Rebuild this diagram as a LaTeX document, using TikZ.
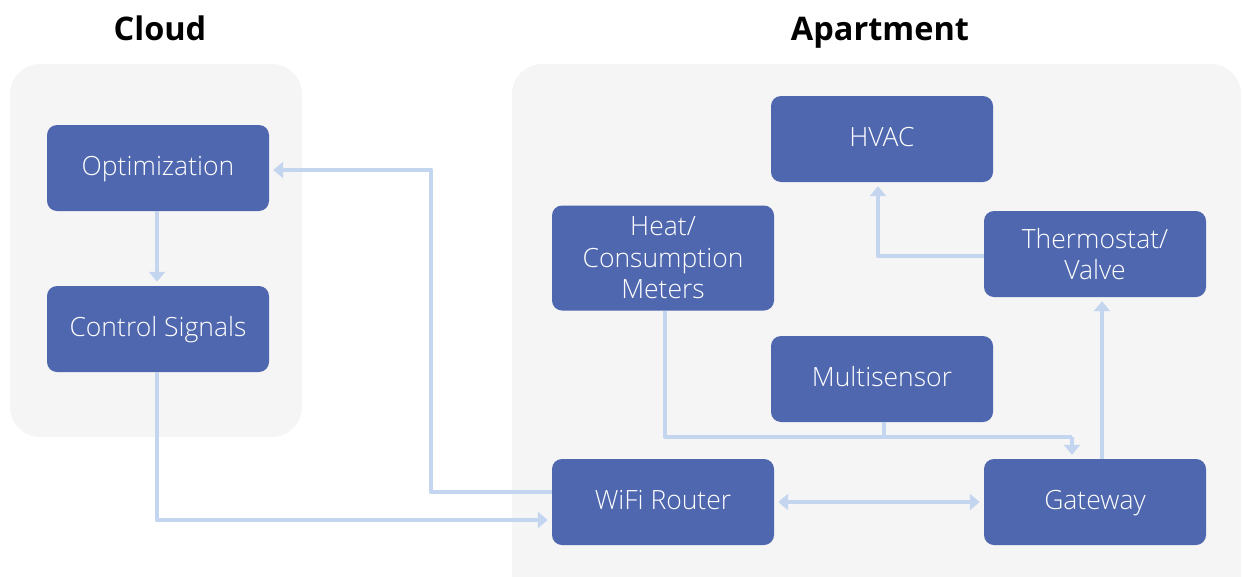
\documentclass[tikz,border=0pt]{standalone}
\usepackage{fontspec}
\setmainfont{Open Sans}[UprightFont={* Light},BoldFont={* Bold}]
\usetikzlibrary{arrows.meta}
\definecolor{panelgray}{HTML}{F5F5F5}
\definecolor{boxblue}{HTML}{4F67AE}
\definecolor{linkblue}{HTML}{C3D5EF}
\tikzset{
  panel/.style={fill=panelgray,draw=none,rounded corners=30pt},
  unit/.style={fill=boxblue,draw=none,rounded corners=10pt,text=white,
    minimum width=222pt,minimum height=86pt,align=center,
    font=\fontsize{26.5}{31.5}\selectfont,inner sep=0pt},
  oneline/.style={unit,text height=20pt,text depth=6pt},
  title/.style={font=\fontsize{32.5}{38}\selectfont\bfseries,anchor=base},
  conn/.style={draw=linkblue,line width=4.5pt,line join=round,
    -{Triangle[width=16pt,length=10pt]},shorten >=4pt},
  link/.style={draw=linkblue,line width=4.5pt,line join=round}
}
\begin{document}
\begin{tikzpicture}[x=1pt,y=-1pt]
\useasboundingbox (0,0) rectangle (1243,576);
\begin{scope}
\clip (0,0) rectangle (1243,576);
% grouping panels
\fill[panel] (10,64) rectangle (302,437);
\fill[panel] (512,64) rectangle (1241,620);
\end{scope}
% titles
\node[title] (tcloud) at (160,40) {Cloud};
\node[title] (tapt) at (880,40) {Apartment};
% cloud side
\node[oneline] (opt) at (158,168) {Optimization};
\node[oneline] (cs) at (158,329) {Control Signals};
% apartment side
\node[oneline] (hvac) at (882,139) {HVAC};
\node[unit,minimum height=105pt] (heat) at (663,258) {Heat/\\Consumption\\Meters};
\node[unit] (thermo) at (1095,254) {Thermostat/\\Valve};
\node[oneline] (ms) at (882,379) {Multisensor};
\node[oneline] (wifi) at (663,502) {WiFi Router};
\node[oneline] (gw) at (1095,502) {Gateway};
% connectors
\coordinate (bendA) at (431,492);
\coordinate (merge) at (1072,437);
\draw[conn] ([xshift=-1pt]opt.south) -- ([xshift=-1pt]cs.north);
\draw[conn] ([xshift=-1pt]cs.south) |- ([yshift=-18pt]wifi.west);
\draw[conn] ([yshift=10pt]wifi.west) -- (bendA) |- ([yshift=-2pt]opt.east);
\draw[link] ([xshift=2pt]heat.south) |- (merge);
\draw[link] ([xshift=2pt]ms.south) -- ([xshift=2pt]ms.south |- merge);
\draw[conn] (merge) -- (merge |- gw.north);
\draw[conn,{Triangle[width=16pt,length=10pt]}-{Triangle[width=16pt,length=10pt]},shorten <=4pt] (wifi.east) -- (gw.west);
\draw[conn] ([xshift=7pt]gw.north) -- ([xshift=7pt]thermo.south);
\draw[conn] ([yshift=-2pt]thermo.west) -| ([xshift=-4pt]hvac.south);
\end{tikzpicture}
\end{document}
